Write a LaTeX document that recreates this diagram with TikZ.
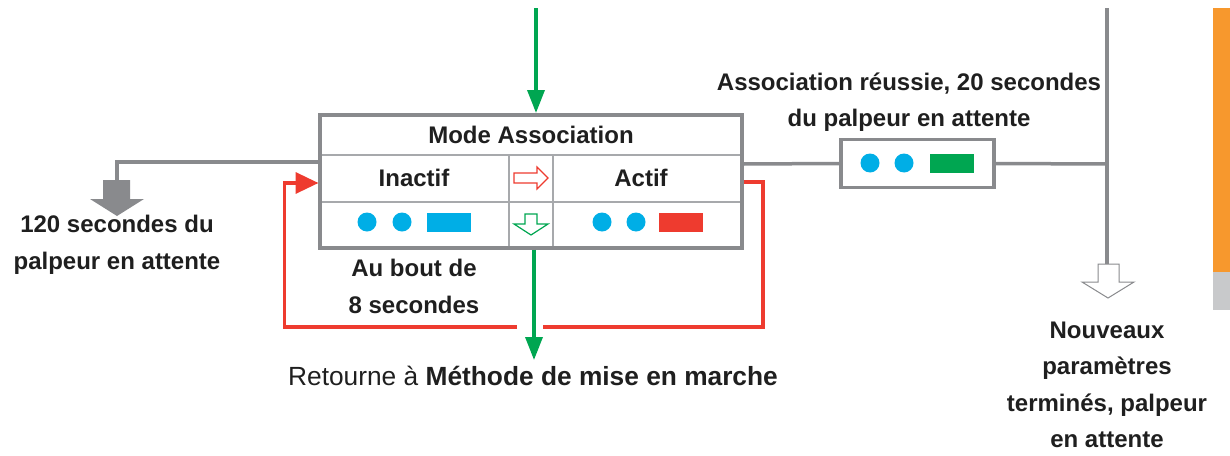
\documentclass[tikz,border=0pt]{standalone}
\usepackage{fontspec}
\setmainfont{Liberation Sans}
\usetikzlibrary{arrows.meta}
\definecolor{cgray}{HTML}{898A8D}
\definecolor{cline}{HTML}{A7A9AC}
\definecolor{cblue}{HTML}{00AEE6}
\definecolor{cred}{HTML}{EE3B2F}
\definecolor{cgreen}{HTML}{00A651}
\definecolor{corange}{HTML}{F7982D}
\definecolor{clgray}{HTML}{C8C9CB}
\tikzset{
  lbl/.style={font=\fontsize{24}{36.5}\selectfont\bfseries, text=black!88, align=center, inner sep=0pt},
  grayline/.style={draw=cgray, line width=3.5pt},
  redline/.style={draw=cred, line width=3.5pt},
  greenarrow/.style={draw=cgreen, line width=3.5pt, -{Triangle[length=23pt,width=17pt]}},
  dot/.style={circle, fill=cblue, minimum size=19pt, inner sep=0pt},
  lamp/.style={minimum width=44pt, minimum height=19pt, inner sep=0pt},
}
\begin{document}
\begin{tikzpicture}[x=1pt,y=-1pt]
\useasboundingbox (0,0) rectangle (1230,455);
% orange/gray bar
\fill[corange] (1213,8) rectangle (1230,272);
\fill[clgray] (1213,272) rectangle (1230,310);
% main box
\coordinate (bTL) at (320,115);
\coordinate (bBR) at (742,248);
\draw[cline, line width=2pt] (320,155) -- (742,155);
\draw[cline, line width=2pt] (320,201.5) -- (742,201.5);
\draw[cline, line width=2pt] (509,155) -- (509,248);
\draw[cline, line width=2pt] (553,155) -- (553,248);
\draw[cgray, line width=3.5pt] (bTL) rectangle (bBR);
\node[lbl] (title) at (531,135) {Mode Association};
\node[lbl] (inactif) at (414,178) {Inactif};
\node[lbl] (actif) at (641,178) {Actif};
% hollow arrows inside
\draw[cred, line width=1.2pt, fill=white] (514,173) -- (537,173) -- (537,167) -- (548,178) -- (537,189) -- (537,183) -- (514,183) -- cycle;
\draw[cgreen, line width=1.2pt, fill=white] (525,214) -- (537,214) -- (537,224) -- (548,224) -- (531,235) -- (514,224) -- (525,224) -- cycle;
% indicators
\node[dot] (i1) at (367,222) {};
\node[dot] (i2) at (402,222) {};
\node[lamp, fill=cblue] (i3) at (449,222.5) {};
\node[dot] (a1) at (602,222) {};
\node[dot] (a2) at (636,222) {};
\node[lamp, fill=cred] (a3) at (681,222.5) {};
% top green arrow
\coordinate (gtop) at (536,8);
\coordinate (gin) at (536,113);
\draw[greenarrow] (gtop) -- (gin);
% bottom green arrow
\coordinate (gbs) at (534,249.5);
\coordinate (gbe) at (534,360);
\draw[greenarrow] (gbs) -- (gbe);
% red loop
\coordinate (r1) at (743.5,182);
\coordinate (r2) at (763,182);
\coordinate (r3) at (763,327);
\coordinate (r4) at (543,327);
\coordinate (r5) at (517,327);
\coordinate (r6) at (284.5,327);
\coordinate (r7) at (284.5,183);
\coordinate (r8) at (318.5,183);
\draw[redline] (r1) -- (r2) -- (r3) -- (r4);
\draw[redline, -{Triangle[length=23pt,width=21pt]}] (r5) -- (r6) -- (r7) -- (r8);
% left gray connector
\coordinate (l1) at (318.5,162);
\coordinate (l2) at (117,162);
\coordinate (l3) at (117,181);
\draw[grayline] (l1) -- (l2) -- (l3);
\fill[cgray] (103,180) -- (130,180) -- (130,199) -- (144,199) -- (117,216) -- (90,199) -- (103,199) -- cycle;
\node[lbl] (left) at (117,245) {120 secondes du\\palpeur en attente};
% labels
\node[lbl] (bout) at (414,286.5) {Au bout de\\8 secondes};
\node[font=\fontsize{26.3}{30}\selectfont, text=black!88, inner sep=0pt] (ret) at (533,376) {Retourne à \textbf{Méthode de mise en marche}};
% right side
\node[draw=cgray, line width=3.5pt, minimum width=153pt, minimum height=48pt, inner sep=0pt] (sbox) at (917.5,163.5) {};
\node[dot] (s1) at (870,163) {};
\node[dot] (s2) at (904,163) {};
\node[lamp, fill=cgreen] (s3) at (951.5,163.5) {};
\draw[grayline] (743.5,164) -- (sbox.west);
\coordinate (v1) at (1107,8);
\coordinate (v2) at (1107,164);
\coordinate (v3) at (1107,265);
\draw[grayline] (sbox.east) -- (v2);
\draw[grayline] (v1) -- (v3);
\draw[cgray, line width=1pt, fill=white] (1098,264) -- (1119,264) -- (1119,282) -- (1134,282) -- (1108,298) -- (1082,282) -- (1098,282) -- cycle;
\node[lbl] (assoc) at (909,102) {Association réussie, 20 secondes\\du palpeur en attente};
\node[lbl] (nouv) at (1107,385) {Nouveaux\\paramètres\\terminés, palpeur\\en attente};
\end{tikzpicture}
\end{document}
